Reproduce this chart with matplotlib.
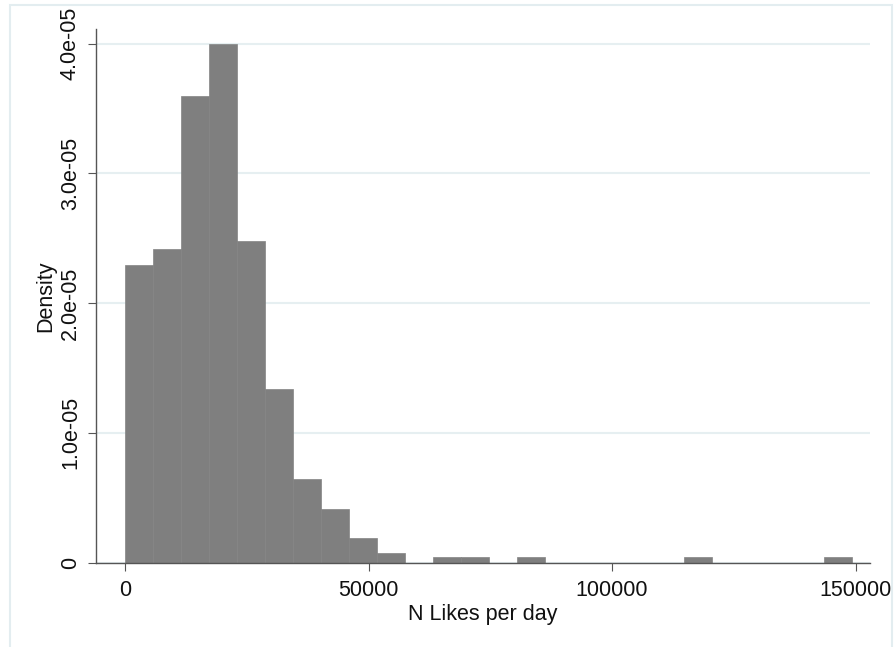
import numpy as np
import matplotlib
matplotlib.use("Agg")
import matplotlib.pyplot as plt
from matplotlib.patches import Rectangle

plt.rcParams['font.family'] = ['Liberation Sans', 'DejaVu Sans']

# histogram of N likes per day (26 bins)
bin_start = 0
bin_width = 5742
density = [2.29e-5, 2.42e-5, 3.60e-5, 4.00e-5, 2.48e-5, 1.34e-5, 0.64e-5,
           0.41e-5, 0.19e-5, 0.072e-5, 0, 0.04e-5, 0.04e-5, 0, 0.04e-5,
           0, 0, 0, 0, 0, 0.04e-5, 0, 0, 0, 0, 0.04e-5]
x_ticks = [0, 50000, 100000, 150000]
x_ticklabels = ['0', '50000', '100000', '150000']
y_ticks = [0, 1e-5, 2e-5, 3e-5, 4e-5]
y_ticklabels = ['0', '1.0e-05', '2.0e-05', '3.0e-05', '4.0e-05']

lefts = bin_start + bin_width * np.arange(len(density))

fig = plt.figure(figsize=(8.94, 6.47), dpi=100)
# faint outer frame of the graph region
fig.patches.append(Rectangle((10 / 894, -0.01), 882 / 894, 1 - 5 / 647 + 0.01,
                             transform=fig.transFigure, fill=False,
                             edgecolor='#e3edf0', lw=1.5))

ax = fig.add_axes([96 / 894, 1 - 562.5 / 647, 774 / 894, 533.5 / 647])
ax.bar(lefts, density, width=bin_width, align='edge',
       color='#7f7f7f', edgecolor='#848484', lw=0.5, zorder=2)

ax.set_xlim(-5953, 152950)
ax.set_ylim(0, 4.113e-5)

ax.set_yticks(y_ticks)
ax.set_yticklabels(y_ticklabels, rotation=90, va='center')
ax.set_xticks(x_ticks)
ax.set_xticklabels(x_ticklabels)
ax.tick_params(axis='both', length=5.8, width=0.8, color='#555555',
               labelsize=15.5, labelcolor='#111111', pad=7)
ax.tick_params(axis='y', pad=5)

for y in y_ticks:
    ax.axhline(y, color='#e6eff1', lw=1.5, zorder=1)

for s in ['top', 'right']:
    ax.spines[s].set_visible(False)
for s in ['left', 'bottom']:
    ax.spines[s].set_color('#555555')
    ax.spines[s].set_linewidth(1.0)
ax.spines['bottom'].set_zorder(3)

ax.set_xlabel('N Likes per day', fontsize=15.5, color='#111111', labelpad=2)
ax.set_ylabel('Density', fontsize=15.5, color='#111111', labelpad=3)

fig.savefig('out.png', dpi=100)
